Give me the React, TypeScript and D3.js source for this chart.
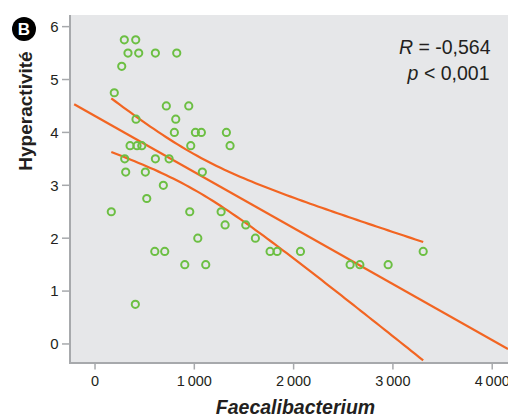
import React from 'react';
import * as d3 from 'd3';

// Data
const faecalibacterium = [
  295, 410, 332, 440, 608, 823, 269, 194, 718, 944, 413, 813, 353, 423, 471, 799,
  1011, 1071, 1323, 964, 1360, 299, 608, 746, 309, 507, 1081, 688, 521, 164, 954, 1270,
  1310, 1518, 1035, 1615, 602, 702, 1763, 1834, 2069, 904, 1115, 2569, 2667, 2952, 3305, 406,
];
const hyperactivite = [
  5.75, 5.75, 5.5, 5.5, 5.5, 5.5, 5.25, 4.75, 4.5, 4.5, 4.25, 4.25, 3.75, 3.75, 3.75, 4,
  4, 4, 4, 3.75, 3.75, 3.5, 3.5, 3.5, 3.25, 3.25, 3.25, 3, 2.75, 2.5, 2.5, 2.5,
  2.25, 2.25, 2, 2, 1.75, 1.75, 1.75, 1.75, 1.75, 1.5, 1.5, 1.5, 1.5, 1.5, 1.75, 0.75,
];
const xTicks = [0, 1000, 2000, 3000, 4000];
const yTicks = [0, 1, 2, 3, 4, 5, 6];
const X_DOMAIN = [-257, 4159];
const Y_DOMAIN = [-0.36, 6.22];
const FIT_RANGE = [-210, 4159];
const T_CRIT = 2.013; // t(0.975, df = 46)
const statLines = ['R = -0,564', 'p < 0,001'];
const xTitle = 'Faecalibacterium';
const yTitle = 'Hyperactivité';
const panelLabel = 'B';

const W = 508;
const H = 418;
const PL = 69;
const PT = 15;
const PR = 508;
const PB = 363;

const GREEN = '#6cbf43';
const ORANGE = '#f26522';
const AXIS = '#a7a9ac';
const BG = '#e6e7e9';
const TEXT = '#231f20';
const FONT = "'Liberation Sans', Arial, Helvetica, sans-serif";

const locale = d3.formatLocale({ decimal: ',', thousands: '\u2009', grouping: [3], currency: ['', ''] });
const fmt = locale.format(',');

export default function App() {
  const x = d3.scaleLinear().domain(X_DOMAIN).range([PL + 0.5, PR]);
  const y = d3.scaleLinear().domain(Y_DOMAIN).range([PB, PT]);

  // regression and 95% CI of the mean
  const n = faecalibacterium.length;
  const mx = d3.mean(faecalibacterium) as number;
  const my = d3.mean(hyperactivite) as number;
  let sxx = 0;
  let sxy = 0;
  for (let i = 0; i < n; i++) {
    sxx += (faecalibacterium[i] - mx) ** 2;
    sxy += (faecalibacterium[i] - mx) * (hyperactivite[i] - my);
  }
  const slope = sxy / sxx;
  const intercept = my - slope * mx;
  let sse = 0;
  for (let i = 0; i < n; i++) {
    sse += (hyperactivite[i] - (intercept + slope * faecalibacterium[i])) ** 2;
  }
  const s = Math.sqrt(sse / (n - 2));
  const fit = (v: number) => intercept + slope * v;
  const hw = (v: number) => T_CRIT * s * Math.sqrt(1 / n + (v - mx) ** 2 / sxx);
  const [xmin, xmax] = d3.extent(faecalibacterium) as [number, number];
  const samples = d3.range(0, 81).map((i) => xmin + ((xmax - xmin) * i) / 80);

  const line = d3
    .line<[number, number]>()
    .x((d) => x(d[0]))
    .y((d) => y(d[1]));

  const fitPath = line(FIT_RANGE.map((v) => [v, fit(v)] as [number, number])) as string;
  const upperPath = line(samples.map((v) => [v, fit(v) + hw(v)] as [number, number])) as string;
  const lowerPath = line(samples.map((v) => [v, fit(v) - hw(v)] as [number, number])) as string;

  return (
    <div style={{ position: 'absolute', left: 0, top: 0 }}>
      <svg width={W} height={H} style={{ display: 'block', background: '#fff' }}>
        <defs>
          <clipPath id="plotclip">
            <rect x={PL} y={PT} width={PR - PL} height={PB - PT} />
          </clipPath>
        </defs>
        <rect x={PL} y={PT} width={PR - PL} height={PB - PT} fill={BG} />

        <g clipPath="url(#plotclip)" fill="none" stroke={ORANGE} strokeWidth={2.2}>
          <path d={fitPath} />
          <path d={upperPath} />
          <path d={lowerPath} />
        </g>

        <g fill="none" stroke={GREEN} strokeWidth={2}>
          {faecalibacterium.map((v, i) => (
            <circle key={i} cx={x(v)} cy={y(hyperactivite[i])} r={3.6} />
          ))}
        </g>

        {/* axes */}
        <line x1={PL + 1} x2={PL + 1} y1={PT} y2={PB + 1} stroke={AXIS} strokeWidth={2} />
        <line x1={PL} x2={PR} y1={PB} y2={PB} stroke={AXIS} strokeWidth={2} />

        {yTicks.map((t) => (
          <g key={t}>
            <line x1={62} x2={PL} y1={y(t)} y2={y(t)} stroke={AXIS} strokeWidth={1.5} />
            <text x={58.5} y={y(t)} dy="0.36em" textAnchor="end" fontFamily={FONT} fontSize={15} fill={TEXT}>
              {t}
            </text>
          </g>
        ))}
        {xTicks.map((t) => (
          <g key={t}>
            <line x1={x(t)} x2={x(t)} y1={PB} y2={369.5} stroke={AXIS} strokeWidth={1.5} />
            <text x={x(t)} y={386} textAnchor="middle" fontFamily={FONT} fontSize={14.5} fill={TEXT}>
              {fmt(t)}
            </text>
          </g>
        ))}

        {/* stats */}
        <text x={490.5} y={54} textAnchor="end" fontFamily={FONT} fontSize={19.5} fill={TEXT}>
          <tspan fontStyle="italic">{statLines[0].slice(0, 1)}</tspan>
          {statLines[0].slice(1)}
        </text>
        <text x={489.5} y={80} textAnchor="end" fontFamily={FONT} fontSize={19.5} fill={TEXT}>
          <tspan fontStyle="italic">{statLines[1].slice(0, 1)}</tspan>
          {statLines[1].slice(1)}
        </text>

        {/* titles */}
        <text
          x={295.5}
          y={414}
          textAnchor="middle"
          fontFamily={FONT}
          fontSize={19.5}
          fontWeight="bold"
          fontStyle="italic"
          fill={TEXT}
        >
          {xTitle}
        </text>
        <text
          transform={`translate(32,111) rotate(-90)`}
          textAnchor="middle"
          fontFamily={FONT}
          fontSize={19}
          fontWeight="bold"
          fill={TEXT}
        >
          {yTitle}
        </text>

        {/* panel badge */}
        <circle cx={24} cy={29} r={12} fill="#000" />
        <text x={24} y={29} dy="0.36em" textAnchor="middle" fontFamily={FONT} fontSize={17} fontWeight="bold" fill="#fff">
          {panelLabel}
        </text>
      </svg>
    </div>
  );
}
